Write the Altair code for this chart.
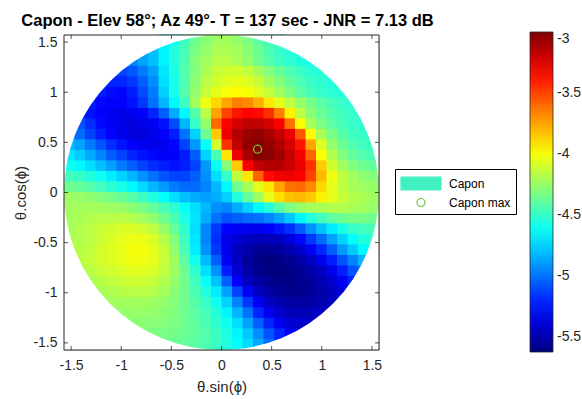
import math
import pandas as pd
import altair as alt

HALF = math.pi / 2
NGRID = 30
STEP = math.pi / NGRID
W = 315
H = 315
R_PX = W / 2

# Capon spectrum (dB) on a 30 x 30 grid (cell size pi/30).
# Each string is one row, from theta.cos(phi) = +1.52 (top) down to -1.52 (bottom);
# the values run left to right over the cells of that row that touch the disk (centred in the row).
capon_rows = [
    "-4.72 -4.6 -4.48 -4.36 -4.28 -4.23 -4.22 -4.26 -4.32 -4.4 -4.47 -4.52",
    "-4.86 -4.8 -4.66 -4.55 -4.45 -4.33 -4.25 -4.2 -4.19 -4.22 -4.28 -4.36 -4.44 -4.5 -4.54 -4.57",
    "-4.95 -4.88 -4.8 -4.66 -4.55 -4.44 -4.3 -4.22 -4.17 -4.16 -4.2 -4.27 -4.35 -4.42 -4.48 -4.53 -4.56 -4.58",
    "-5.12 -5.12 -5.07 -4.98 -4.88 -4.7 -4.56 -4.43 -4.3 -4.2 -4.13 -4.1 -4.1 -4.14 -4.21 -4.3 -4.37 -4.44 -4.49 -4.53 -4.55 -4.57",
    "-5.18 -5.2 -5.2 -5.15 -5.05 -4.93 -4.72 -4.58 -4.44 -4.28 -4.16 -4.1 -4.06 -4.05 -4.07 -4.13 -4.22 -4.3 -4.38 -4.44 -4.49 -4.52 -4.55 -4.56",
    "-5.22 -5.27 -5.28 -5.22 -5.1 -4.98 -4.76 -4.58 -4.42 -4.26 -4.12 -4.05 -4.0 -3.98 -4.0 -4.06 -4.14 -4.22 -4.32 -4.4 -4.46 -4.5 -4.53 -4.55",
    "-5.22 -5.28 -5.3 -5.3 -5.25 -5.15 -5.0 -4.82 -4.65 -4.48 -4.22 -4.02 -3.88 -3.75 -3.65 -3.68 -3.78 -3.92 -4.05 -4.15 -4.25 -4.33 -4.4 -4.46 -4.5 -4.53",
    "-5.18 -5.25 -5.3 -5.33 -5.35 -5.33 -5.3 -5.2 -5.05 -4.85 -4.65 -4.42 -4.15 -3.75 -3.5 -3.38 -3.33 -3.35 -3.45 -3.65 -3.95 -4.15 -4.28 -4.36 -4.43 -4.48 -4.5 -4.52",
    "-5.08 -5.18 -5.27 -5.32 -5.35 -5.37 -5.35 -5.32 -5.25 -5.1 -4.82 -4.5 -4.25 -3.6 -3.32 -3.22 -3.17 -3.17 -3.22 -3.32 -3.62 -3.98 -4.2 -4.32 -4.4 -4.46 -4.5 -4.52",
    "-4.92 -5.02 -5.12 -5.22 -5.3 -5.35 -5.38 -5.38 -5.35 -5.3 -5.22 -5.0 -4.75 -4.35 -3.85 -3.28 -3.14 -3.07 -3.05 -3.1 -3.18 -3.28 -3.55 -3.98 -4.2 -4.33 -4.42 -4.47 -4.5 -4.52",
    "-4.8 -4.88 -4.98 -5.08 -5.18 -5.25 -5.3 -5.33 -5.35 -5.33 -5.28 -5.12 -4.9 -4.62 -4.1 -3.45 -3.17 -3.05 -3.01 -3.05 -3.12 -3.22 -3.38 -3.75 -4.08 -4.25 -4.36 -4.43 -4.47 -4.5",
    "-4.7 -4.77 -4.85 -4.95 -5.05 -5.12 -5.2 -5.25 -5.28 -5.3 -5.3 -5.22 -5.05 -4.75 -4.45 -3.92 -3.28 -3.1 -3.02 -3.03 -3.08 -3.18 -3.3 -3.58 -3.98 -4.18 -4.3 -4.38 -4.43 -4.46",
    "-4.6 -4.65 -4.72 -4.8 -4.88 -4.98 -5.05 -5.12 -5.18 -5.22 -5.25 -5.22 -5.12 -4.9 -4.62 -4.3 -3.85 -3.32 -3.18 -3.13 -3.14 -3.2 -3.28 -3.45 -3.85 -4.1 -4.22 -4.3 -4.35 -4.38",
    "-4.47 -4.5 -4.55 -4.6 -4.68 -4.75 -4.82 -4.92 -5.0 -5.08 -5.12 -5.12 -5.05 -4.92 -4.72 -4.5 -4.15 -3.92 -3.58 -3.35 -3.3 -3.28 -3.32 -3.5 -3.8 -4.02 -4.15 -4.22 -4.27 -4.3",
    "-4.35 -4.38 -4.42 -4.47 -4.52 -4.58 -4.65 -4.73 -4.82 -4.9 -4.98 -5.02 -5.02 -4.95 -4.82 -4.65 -4.35 -4.2 -4.05 -3.92 -3.75 -3.62 -3.6 -3.68 -3.88 -4.05 -4.15 -4.2 -4.23 -4.25",
    "-4.23 -4.25 -4.27 -4.3 -4.33 -4.37 -4.42 -4.48 -4.55 -4.63 -4.72 -4.8 -4.85 -4.88 -4.85 -4.75 -4.55 -4.38 -4.22 -4.05 -3.9 -3.82 -3.8 -3.85 -3.95 -4.05 -4.12 -4.17 -4.2 -4.22",
    "-4.22 -4.22 -4.22 -4.22 -4.23 -4.25 -4.28 -4.32 -4.38 -4.45 -4.52 -4.62 -4.72 -4.82 -4.92 -4.95 -4.85 -4.75 -4.65 -4.55 -4.42 -4.32 -4.25 -4.22 -4.2 -4.18 -4.18 -4.2 -4.22 -4.25",
    "-4.22 -4.2 -4.18 -4.17 -4.16 -4.16 -4.18 -4.22 -4.27 -4.35 -4.45 -4.57 -4.7 -4.85 -5.0 -5.08 -5.05 -5.02 -5.0 -4.95 -4.88 -4.78 -4.66 -4.55 -4.47 -4.4 -4.35 -4.33 -4.33 -4.35",
    "-4.22 -4.18 -4.15 -4.12 -4.1 -4.08 -4.08 -4.1 -4.15 -4.25 -4.38 -4.52 -4.72 -4.95 -5.15 -5.3 -5.32 -5.33 -5.33 -5.3 -5.25 -5.17 -5.05 -4.92 -4.8 -4.68 -4.58 -4.5 -4.47 -4.45",
    "-4.2 -4.18 -4.15 -4.12 -4.08 -4.05 -4.03 -4.04 -4.08 -4.17 -4.3 -4.48 -4.7 -4.95 -5.18 -5.35 -5.4 -5.45 -5.47 -5.47 -5.45 -5.38 -5.28 -5.15 -5.02 -4.88 -4.75 -4.63 -4.55 -4.5",
    "-4.2 -4.17 -4.14 -4.1 -4.07 -4.04 -4.01 -4.01 -4.05 -4.13 -4.27 -4.45 -4.68 -4.92 -5.15 -5.35 -5.45 -5.52 -5.56 -5.57 -5.55 -5.5 -5.42 -5.32 -5.2 -5.05 -4.9 -4.77 -4.65 -4.58",
    "-4.16 -4.13 -4.1 -4.07 -4.04 -4.02 -4.02 -4.05 -4.12 -4.23 -4.4 -4.6 -4.82 -5.05 -5.32 -5.45 -5.55 -5.6 -5.62 -5.6 -5.57 -5.52 -5.45 -5.35 -5.22 -5.08 -4.95 -4.82",
    "-4.19 -4.16 -4.13 -4.1 -4.08 -4.06 -4.06 -4.08 -4.14 -4.23 -4.36 -4.52 -4.72 -4.92 -5.22 -5.4 -5.52 -5.58 -5.61 -5.62 -5.6 -5.57 -5.52 -5.45 -5.35 -5.22 -5.08 -4.95",
    "-4.2 -4.17 -4.14 -4.12 -4.11 -4.11 -4.13 -4.18 -4.25 -4.35 -4.47 -4.62 -4.8 -5.05 -5.3 -5.45 -5.53 -5.57 -5.6 -5.6 -5.58 -5.55 -5.5 -5.42 -5.32 -5.2",
    "-4.21 -4.19 -4.17 -4.16 -4.16 -4.18 -4.22 -4.28 -4.35 -4.44 -4.55 -4.68 -4.88 -5.12 -5.32 -5.45 -5.52 -5.56 -5.58 -5.58 -5.56 -5.52 -5.46 -5.38",
    "-4.24 -4.23 -4.22 -4.22 -4.22 -4.23 -4.26 -4.3 -4.35 -4.42 -4.5 -4.6 -4.75 -4.95 -5.15 -5.32 -5.43 -5.5 -5.53 -5.54 -5.53 -5.5 -5.45 -5.38",
    "-4.26 -4.25 -4.25 -4.25 -4.26 -4.28 -4.31 -4.35 -4.4 -4.46 -4.55 -4.66 -4.82 -5.0 -5.2 -5.33 -5.42 -5.47 -5.48 -5.47 -5.44 -5.4",
    "-4.28 -4.28 -4.29 -4.3 -4.32 -4.35 -4.39 -4.45 -4.52 -4.6 -4.72 -4.88 -5.05 -5.2 -5.32 -5.4 -5.42 -5.42",
    "-4.32 -4.32 -4.33 -4.34 -4.36 -4.39 -4.43 -4.49 -4.56 -4.66 -4.78 -4.93 -5.08 -5.2 -5.3 -5.36",
    "-4.35 -4.36 -4.38 -4.4 -4.44 -4.49 -4.55 -4.63 -4.73 -4.86 -5.0 -5.12",
]

# Capon maximum position
max_u = [0.36]
max_w = [0.432]

legend_items = ["Capon", "Capon max"]
axis_ticks = [-1.5, -1, -0.5, 0, 0.5, 1, 1.5]
cbar_ticks = [-5.5, -5, -4.5, -4, -3.5, -3]
cbar_min, cbar_max = -5.62, -3.0
jet_colors = ["#00007f", "#0000ff", "#00ffff", "#ffff00", "#ff0000", "#7f0000"]

cells = []
for j, row in enumerate(capon_rows):
    vals = [float(t) for t in row.split()]
    start = (NGRID - len(vals)) // 2
    w1 = HALF - j * STEP
    for k, v in enumerate(vals):
        u0 = -HALF + (start + k) * STEP
        cells.append({"u0": u0, "u1": u0 + STEP, "w0": w1 - STEP, "w1": w1, "v": v})
heat_df = pd.DataFrame(cells)

span = cbar_max - cbar_min
stops = [cbar_min + f * span for f in (0, 1 / 8, 3 / 8, 5 / 8, 7 / 8, 1)]
color_scale = alt.Scale(domain=stops, range=jet_colors, interpolate="rgb", clamp=True)

FONT = "Liberation Sans"
TXT = "#262626"
xscale = alt.Scale(domain=[-HALF, HALF], nice=False, zero=False)
yscale = alt.Scale(domain=[-HALF, HALF], nice=False, zero=False)
XT = "θ.sin(ϕ)"
YT = "θ.cos(ϕ)"

xaxis = alt.Axis(values=axis_ticks, labelExpr="toString(datum.value)", ticks=False, domain=False,
                 grid=False, labelFontSize=14, labelFont=FONT, labelColor=TXT, labelPadding=8,
                 titleFont=FONT, titleFontSize=15, titleFontWeight="normal", titleColor=TXT,
                 titlePadding=7, labelFlush=False)
yaxis = alt.Axis(values=axis_ticks, labelExpr="toString(datum.value)", ticks=False, domain=False,
                 grid=False, labelFontSize=14, labelFont=FONT, labelColor=TXT, labelPadding=7,
                 titleFont=FONT, titleFontSize=15, titleFontWeight="normal", titleColor=TXT,
                 titlePadding=4, labelFlush=False)

heat = alt.Chart(heat_df).mark_rect(x2Offset=0.6, y2Offset=-0.6).encode(
    x=alt.X("u0:Q", scale=xscale, axis=xaxis, title=XT),
    x2="u1:Q",
    y=alt.Y("w0:Q", scale=yscale, axis=yaxis, title=YT),
    y2="w1:Q",
    color=alt.Color("v:Q", scale=color_scale, title=None, legend=alt.Legend(
        orient="none", legendX=466, legendY=-3, direction="vertical",
        gradientLength=320, gradientThickness=23, values=cbar_ticks,
        labelExpr="toString(datum.value)", labelFontSize=14, labelFont=FONT,
        labelColor=TXT, labelOffset=4, gradientStrokeColor=TXT, gradientStrokeWidth=0.8,
        labelBaseline="middle", labelOverlap=False, padding=0)),
)

one = pd.DataFrame({"a": [0]})
mask = alt.Chart(one).mark_arc(fill="white", clip=True).encode(
    x=alt.value(W / 2), y=alt.value(H / 2),
    theta=alt.value(0), theta2=alt.value(2 * math.pi),
    radius=alt.value(R_PX), radius2=alt.value(400),
)

frame = alt.Chart(one).mark_rect(filled=False, stroke="#262626", strokeWidth=1).encode(
    x=alt.value(0), x2=alt.value(W), y=alt.value(0), y2=alt.value(H))

tick_df = pd.DataFrame({"t": axis_ticks})
tk = dict(color="#262626", strokeWidth=0.8)
xt_bottom = alt.Chart(tick_df).mark_rule(**tk).encode(
    x=alt.X("t:Q", scale=xscale, title=XT), y=alt.value(H), y2=alt.value(H - 4))
xt_top = alt.Chart(tick_df).mark_rule(**tk).encode(
    x=alt.X("t:Q", scale=xscale, title=XT), y=alt.value(0), y2=alt.value(4))
yt_left = alt.Chart(tick_df).mark_rule(**tk).encode(
    y=alt.Y("t:Q", scale=yscale, title=YT), x=alt.value(0), x2=alt.value(4))
yt_right = alt.Chart(tick_df).mark_rule(**tk).encode(
    y=alt.Y("t:Q", scale=yscale, title=YT), x=alt.value(W - 4), x2=alt.value(W))

GREEN = "#77c23c"
AQUA = "#40f0c0"
rect_path = "M-1,-0.75H3.7V0.75H-1Z"
circ_path = "M1.82,0A0.47,0.47,0,1,1,0.88,0A0.47,0.47,0,1,1,1.82,0Z"
sym_legend = alt.Legend(orient="none", legendX=331, legendY=134, title=None,
                        strokeColor="black", fillColor="white", padding=5,
                        symbolSize=289, symbolStrokeWidth=1.2, symbolOpacity=1,
                        labelFontSize=12, labelFont=FONT, labelColor="black",
                        labelOffset=30, rowPadding=0)
leg_df = pd.DataFrame({"k": legend_items})
legend_layer = alt.Chart(leg_df).mark_point(size=289, filled=True, opacity=1).encode(
    shape=alt.Shape("k:N", scale=alt.Scale(domain=legend_items, range=[rect_path, circ_path]),
                    legend=sym_legend),
    fill=alt.Fill("k:N", scale=alt.Scale(domain=legend_items, range=[AQUA, "transparent"]),
                  legend=sym_legend),
    stroke=alt.Stroke("k:N", scale=alt.Scale(domain=legend_items, range=[AQUA, GREEN]),
                      legend=sym_legend),
).transform_filter("false")

max_df = pd.DataFrame({"u": max_u, "w": max_w})
max_pt = alt.Chart(max_df).mark_point(shape="circle", size=64, filled=False,
                                      color=GREEN, strokeWidth=1.3, opacity=1).encode(
    x=alt.X("u:Q", scale=xscale, title=XT),
    y=alt.Y("w:Q", scale=yscale, title=YT),
)

chart = alt.layer(heat, mask, frame, xt_bottom, xt_top, yt_left, yt_right, legend_layer, max_pt).properties(
    width=W, height=H,
    title=alt.TitleParams("Capon - Elev 58°; Az 49°- T = 137 sec - JNR = 7.13 dB",
                          font=FONT, fontSize=16.5, fontWeight="bold", color="black",
                          anchor="middle", dx=6, dy=20, offset=10, baseline="alphabetic"),
    autosize=alt.AutoSizeParams(type="none"),
    padding={"left": 64, "top": 35, "right": 582 - 64 - W, "bottom": 399 - 35 - H},
).configure_view(stroke=None).configure(background="white")

chart.save("out.html", embed_options={"renderer": "svg", "actions": False})
